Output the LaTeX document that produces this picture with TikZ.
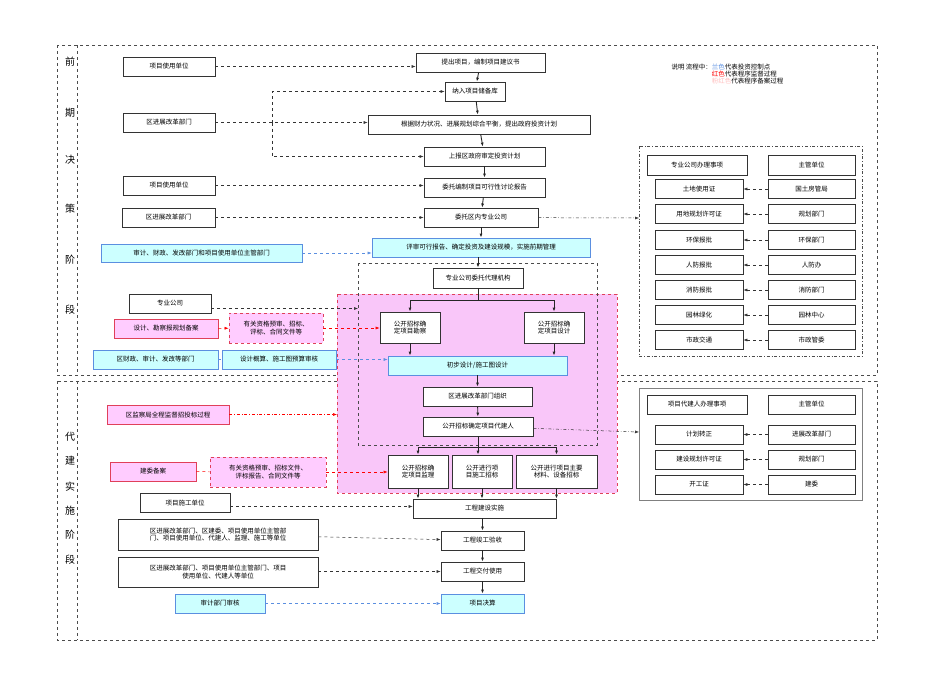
\documentclass[tikz,border=0pt]{standalone}
\usepackage{fontspec}
\setmainfont{Noto Sans CJK SC}
\usetikzlibrary{arrows.meta}
\definecolor{cyf}{HTML}{CCFFFF}
\definecolor{cyb}{HTML}{5B8FE0}
\definecolor{pkf}{HTML}{FFCCFF}
\definecolor{pkr}{HTML}{F9C6F9}
\definecolor{rdb}{HTML}{E0405A}
\tikzset{
 bx/.style={draw=black!80, line width=0.8pt, fill=white, inner sep=1pt, align=center, font=\fontsize{6.5}{7.5}\selectfont},
 cy/.style={bx, fill=cyf, draw=cyb},
 pk/.style={bx, fill=pkf, draw=rdb},
 pkd/.style={bx, fill=pkf, draw=rdb, dashed},
 ar/.style={-{Latex[length=4pt,width=3pt]}, line width=0.9pt, black!85},
 da/.style={-{Latex[length=4pt,width=3pt]}, dashed, black!80, line width=0.5pt},
 ba/.style={-{Latex[length=4pt,width=3pt]}, dashed, cyb, line width=0.5pt},
 ra/.style={-{Latex[length=4pt,width=3pt]}, dashed, red, line width=0.5pt},
 phase/.style={font=\fontsize{10}{10}\selectfont},
 frame/.style={dashed, black!70, line width=0.5pt},
}
\newcommand\bx[7]{\node[#6, minimum width={(#4-#2)*1pt}, minimum height={(#5-#3)*1pt}] (#1) at ({(#2+#4)/2},{(#3+#5)/2}) {#7};}
\begin{document}
\begin{tikzpicture}[x=1pt,y=-1pt]
\useasboundingbox (0,0) rectangle (950,672);
% frames
\draw[frame] (57,45) rectangle (877,375);
\draw[frame] (77,45) -- (77,375);
\draw[frame] (57,381) rectangle (877,640);
\draw[frame] (77,381) -- (77,640);
\foreach \t/\y in {前/62,期/113,决/160,策/209,阶/260,段/310} \node[phase] at (70,\y) {\t};
\foreach \t/\y in {代/437,建/461,实/487,施/511,阶/535,段/560} \node[phase] at (70,\y) {\t};
% pink region and gray dashed box
\fill[pkr] (337,294) rectangle (617,493);
\draw[dashed, rdb, line width=0.6pt] (337,294) rectangle (617,493);
\draw[frame] (358,263) rectangle (597,445);
% legend
\node[anchor=north west, align=left, font=\fontsize{6.5}{7}\selectfont] (leg) at (668,60) {说明 流程中：\textcolor{cyb}{兰色}代表投资控制点\\\hphantom{说明 流程中：}\textcolor{red}{红色}代表程序监督过程\\\hphantom{说明 流程中：}\textcolor{pink}{粉红色}代表程序备案过程};
% main flow
\bx{u1}{123}{57}{215}{76}{bx}{项目使用单位}
\bx{p1}{416}{53}{545}{72}{bx}{提出项目，编制项目建议书}
\bx{p2}{445}{82}{505}{101}{bx}{纳入项目储备库}
\bx{u2}{123}{113}{215}{132}{bx}{区进展改革部门}
\bx{p3}{368}{115}{590}{134}{bx}{根据财力状况、进展规划综合平衡，提出政府投资计划}
\bx{p4}{424}{147}{545}{166}{bx}{上报区政府审定投资计划}
\bx{u3}{123}{176}{215}{195}{bx}{项目使用单位}
\bx{p5}{424}{178}{545}{197}{bx}{委托编制项目可行性讨论报告}
\bx{u4}{122}{208}{215}{227}{bx}{区进展改革部门}
\bx{p6}{424}{208}{538}{227}{bx}{委托区内专业公司}
\bx{c1}{101}{244}{302}{262}{cy}{审计、财政、发改部门和项目使用单位主管部门}
\bx{p7}{372}{238}{590}{257}{cy}{评审可行报告、确定投资及建设规模，实施前期管理}
\bx{p8}{433}{268}{523}{288}{bx}{专业公司委托代理机构}
\bx{u5}{129}{294}{211}{313}{bx}{专业公司}
\bx{r1}{114}{319}{218}{338}{pk}{设计、勘察报规划备案}
\bx{r2}{229}{313}{323}{343}{pkd}{有关资格预审、招标、\\评标、合同文件等}
\bx{q1}{380}{312}{440}{343}{bx}{公开招标确\\定项目勘察}
\bx{q2}{524}{312}{584}{343}{bx}{公开招标确\\定项目设计}
\bx{c2}{93}{350}{218}{369}{cy}{区财政、审计、发改等部门}
\bx{c3}{222}{350}{336}{369}{cy}{设计概算、施工图预算审核}
\bx{p9}{388}{356}{567}{375}{cy}{初步设计/施工图设计}
\bx{p10}{423}{387}{532}{406}{bx}{区进展改革部门组织}
\bx{r3}{107}{405}{229}{424}{pk}{区监察局全程监督招投标过程}
\bx{p11}{423}{417}{533}{436}{bx}{公开招标确定项目代建人}
\bx{q3}{388}{455}{448}{488}{bx}{公开招标确\\定项目监理}
\bx{q4}{452}{455}{512}{488}{bx}{公开进行项\\目施工招标}
\bx{q5}{516}{455}{597}{488}{bx}{公开进行项目主要\\材料、设备招标}
\bx{r4}{110}{462}{196}{481}{pk}{建委备案}
\bx{r5}{210}{457}{326}{487}{pkd}{有关资格预审、招标文件、\\评标报告、合同文件等}
\bx{u6}{140}{493}{230}{512}{bx}{项目施工单位}
\bx{p12}{413}{499}{556}{518}{bx}{工程建设实施}
\bx{u7}{118}{519}{318}{550}{bx}{区进展改革部门、区建委、项目使用单位主管部\\门、项目使用单位、代建人、监理、施工等单位}
\bx{p13}{441}{531}{524}{550}{bx}{工程竣工验收}
\bx{u8}{118}{557}{318}{587}{bx}{区进展改革部门、项目使用单位主管部门、项目\\使用单位、代建人等单位}
\bx{p14}{441}{562}{524}{581}{bx}{工程交付使用}
\bx{c4}{175}{594}{265}{613}{cy}{审计部门审核}
\bx{p15}{441}{594}{524}{613}{cy}{项目决算}
% right boxes
\draw[frame, dash dot] (639,146) rectangle (862,356);
\coordinate (rb1) at (639,218);
\bx{h1}{647}{155}{747}{175}{bx}{专业公司办理事项}
\bx{h2}{768}{155}{855}{175}{bx}{主管单位}
\foreach \i/\a/\b/\y in {1/土地使用证/国土房管局/189,2/用地规划许可证/规划部门/214,3/环保报批/环保部门/240,4/人防报批/人防办/265,5/消防报批/消防部门/290,6/园林绿化/园林中心/315,7/市政交通/市政管委/340}{
 \node[bx, minimum width=88pt, minimum height=19pt] (a\i) at (699,\y) {\a};
 \node[bx, minimum width=87pt, minimum height=19pt] (b\i) at (811.5,\y) {\b};
 \draw[da] (b\i) -- (a\i);
}
\draw[frame, black!50, solid] (639,388) rectangle (862,500);
\coordinate (rb2) at (639,432);
\bx{h3}{647}{395}{747}{414}{bx}{项目代建人办理事项}
\bx{h4}{768}{395}{855}{414}{bx}{主管单位}
\foreach \i/\a/\b/\y in {8/计划转正/进展改革部门/434.5,9/建设规划许可证/规划部门/459.5,10/开工证/建委/484.5}{
 \node[bx, minimum width=88pt, minimum height=19pt] (a\i) at (699,\y) {\a};
 \node[bx, minimum width=87pt, minimum height=19pt] (b\i) at (811.5,\y) {\b};
 \draw[da] (b\i) -- (a\i);
}
% main arrows
\draw[ar] (p1) -- (p2); \draw[ar] (p2) -- (p3); \draw[ar] (p3) -- (p4);
\draw[ar] (p4) -- (p5); \draw[ar] (p5) -- (p6); \draw[ar] (p6) -- (p7);
\draw[ar] (p7.south -| p8) -- (p8);
\draw[ar] (p8.south) -- ++(0,12) -| (q1.north);
\draw[ar] (p8.south) ++(0,12) -| (q2.north);
\draw[ar] (q1.south) -- (q1.south |- p9.north);
\draw[ar] (q2.south) -- (q2.south |- p9.north);
\draw[ar] (p9.south -| p10) -- (p10); \draw[ar] (p10) -- (p11);
\draw[ar] (p11.south) -- ++(0,11) -| (q3.north);
\draw[ar] (p11.south) -- (q4.north -| p11.south);
\draw[ar] (p11.south) ++(0,11) -| (q5.north);
\draw[ar] (q3.south) -- (q3.south |- p12.north);
\draw[ar] (q4.south) -- (q4.south |- p12.north);
\draw[ar] (q5.south) -- (q5.south |- p12.north);
\draw[ar] (p12.south -| p13) -- (p13); \draw[ar] (p13) -- (p14); \draw[ar] (p14) -- (p15);
% side connectors
\draw[da] (u1) -- (p1.west |- u1);
\draw[da] (u2) -- (p3.west |- u2);
\draw[da] (272,122.5) -- (272,91.5) -- (p2.west);
\draw[da] (272,122.5) -- (272,156.5) -- (p4.west);
\draw[da] (u3) -- (p5.west |- u3);
\draw[da] (u4) -- (p6);
\draw[da, dash dot] (p6) -- (rb1);
\draw[ba] (c1) -- (p7.west |- c1);
\draw[da] (u5.east) ++(0,5) -- (358,308.5);
\draw[ra] (r1) -- (r2); \draw[ra] (r2) -- (q1.west |- r2);
\draw[ba, -] (c2) -- (c3); \draw[ba] (c3.east) -- (p9.west |- c3);
\draw[ra, dash dot] (r3) -- (337,414.5);
\draw[da, dash dot] (p11) -- (rb2);
\draw[ra, -] (r4) -- (r5); \draw[ra] (r5) -- (q3.west |- r5);
\draw[da] (u6.east) ++(0,4) -- (p12.west |- 0,506.5);
\draw[da] (u7) -- (p13);
\draw[da] (u8.east |- p14) -- (p14);
\draw[ba] (c4) -- (p15);
\end{tikzpicture}
\end{document}
